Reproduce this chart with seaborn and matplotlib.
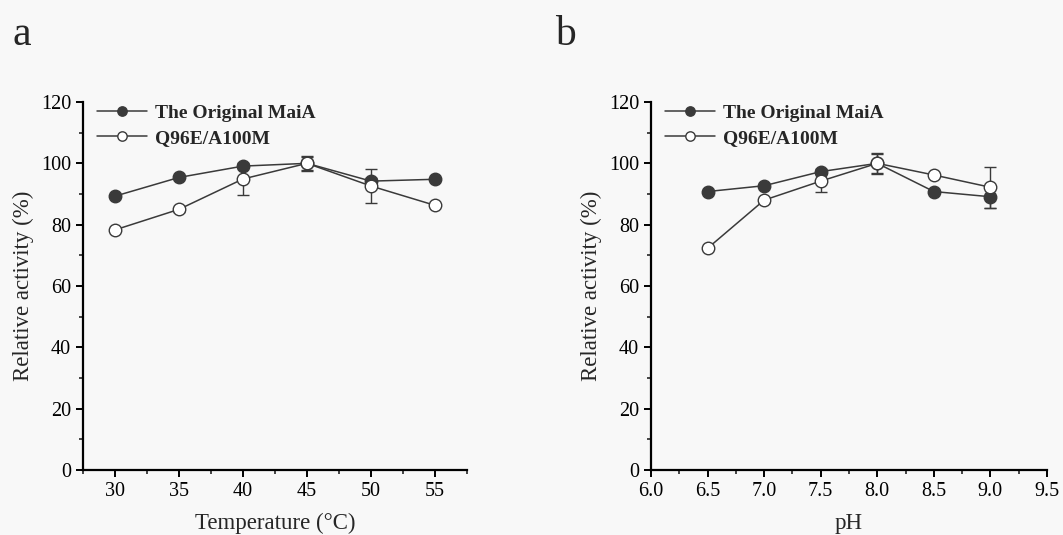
import numpy as np
import pandas as pd
import seaborn as sns
import matplotlib.pyplot as plt
from matplotlib.ticker import MultipleLocator

# data
temp = [30, 35, 40, 45, 50, 55]
temp_orig = [89.3, 95.4, 99.1, 100.0, 94.2, 94.8]
temp_orig_err = [0.5, 0.5, 0.5, 2.2, 1.0, 0.5]
temp_mut = [78.3, 85.0, 94.9, 100.0, 92.6, 86.3]
temp_mut_err = [0.5, 0.8, 5.2, 2.5, 5.6, 0.5]

ph = [6.5, 7.0, 7.5, 8.0, 8.5, 9.0]
ph_orig = [90.8, 92.7, 97.3, 100.0, 90.8, 89.1]
ph_orig_err = [0.5, 0.5, 0.8, 3.0, 0.5, 3.6]
ph_mut = [72.3, 88.0, 94.2, 100.0, 96.2, 92.2]
ph_mut_err = [0.5, 0.8, 3.4, 3.5, 0.8, 6.7]

labels = ["The Original MaiA", "Q96E/A100M"]

sns.set_style("ticks")
plt.rcParams['font.family'] = ['Liberation Serif', 'DejaVu Serif']

bg = '#f8f8f8'
fig = plt.figure(figsize=(10.63, 5.35), dpi=100, facecolor=bg)
ax1 = fig.add_axes([83/1063, 65/535, 384/1063, 368/535])
ax2 = fig.add_axes([651/1063, 65/535, 396/1063, 368/535])

line_c = '#3a3a3a'

def draw(ax, x, y1, e1, y2, e2, xlabel, xlim, xmajor, xfmt):
    ax.set_facecolor(bg)
    df = pd.DataFrame({'x': list(x) * 2, 'y': list(y1) + list(y2),
                       'series': [labels[0]] * len(x) + [labels[1]] * len(x)})
    ax.errorbar(x, y1, yerr=e1, fmt='none', ecolor=line_c, elinewidth=1,
                capsize=4, capthick=1, zorder=2)
    ax.errorbar(x, y2, yerr=e2, fmt='none', ecolor=line_c, elinewidth=1,
                capsize=4, capthick=1, zorder=2)
    sns.lineplot(data=df[df.series == labels[0]], x='x', y='y', ax=ax,
                 color=line_c, marker='o', markersize=9, markerfacecolor='#3a3a3a',
                 markeredgecolor=line_c, markeredgewidth=1, linewidth=1.1,
                 label=labels[0], zorder=3)
    sns.lineplot(data=df[df.series == labels[1]], x='x', y='y', ax=ax,
                 color=line_c, marker='o', markersize=9, markerfacecolor='white',
                 markeredgecolor=line_c, markeredgewidth=1, linewidth=1.1,
                 label=labels[1], zorder=4)
    ax.set_xlim(*xlim)
    ax.set_ylim(0, 120)
    ax.xaxis.set_major_locator(MultipleLocator(xmajor))
    ax.xaxis.set_minor_locator(MultipleLocator(xmajor / 2))
    ax.yaxis.set_major_locator(MultipleLocator(20))
    ax.yaxis.set_minor_locator(MultipleLocator(10))
    ax.xaxis.set_major_formatter(xfmt)
    for s in ['top', 'right']:
        ax.spines[s].set_visible(False)
    for s in ['left', 'bottom']:
        ax.spines[s].set_linewidth(1.6)
        ax.spines[s].set_color('black')
    ax.tick_params(which='major', direction='out', length=5, width=1.4, labelsize=14.5, colors='black')
    ax.tick_params(which='minor', direction='out', length=3, width=1.2)
    ax.set_xlabel(xlabel, fontsize=16.5, labelpad=9)
    ax.set_ylabel('Relative activity (%)', fontsize=16.5, labelpad=5)
    ax.legend(loc='upper left', bbox_to_anchor=(0.0, 1.03), frameon=False,
              prop={'weight': 'bold', 'size': 14}, handlelength=2.6, markerscale=0.75,
              handletextpad=0.4, labelspacing=0.35, borderaxespad=0.3)

draw(ax1, temp, temp_orig, temp_orig_err, temp_mut, temp_mut_err,
     'Temperature (°C)', (27.5, 57.5), 5, '{x:.0f}')
draw(ax2, ph, ph_orig, ph_orig_err, ph_mut, ph_mut_err,
     'pH', (6.0, 9.5), 0.5, '{x:.1f}')

fig.text(13/1063, 1 - 45/535, 'a', fontsize=30)
fig.text(555/1063, 1 - 45/535, 'b', fontsize=30)

fig.savefig('out.png', dpi=100, facecolor=bg)
